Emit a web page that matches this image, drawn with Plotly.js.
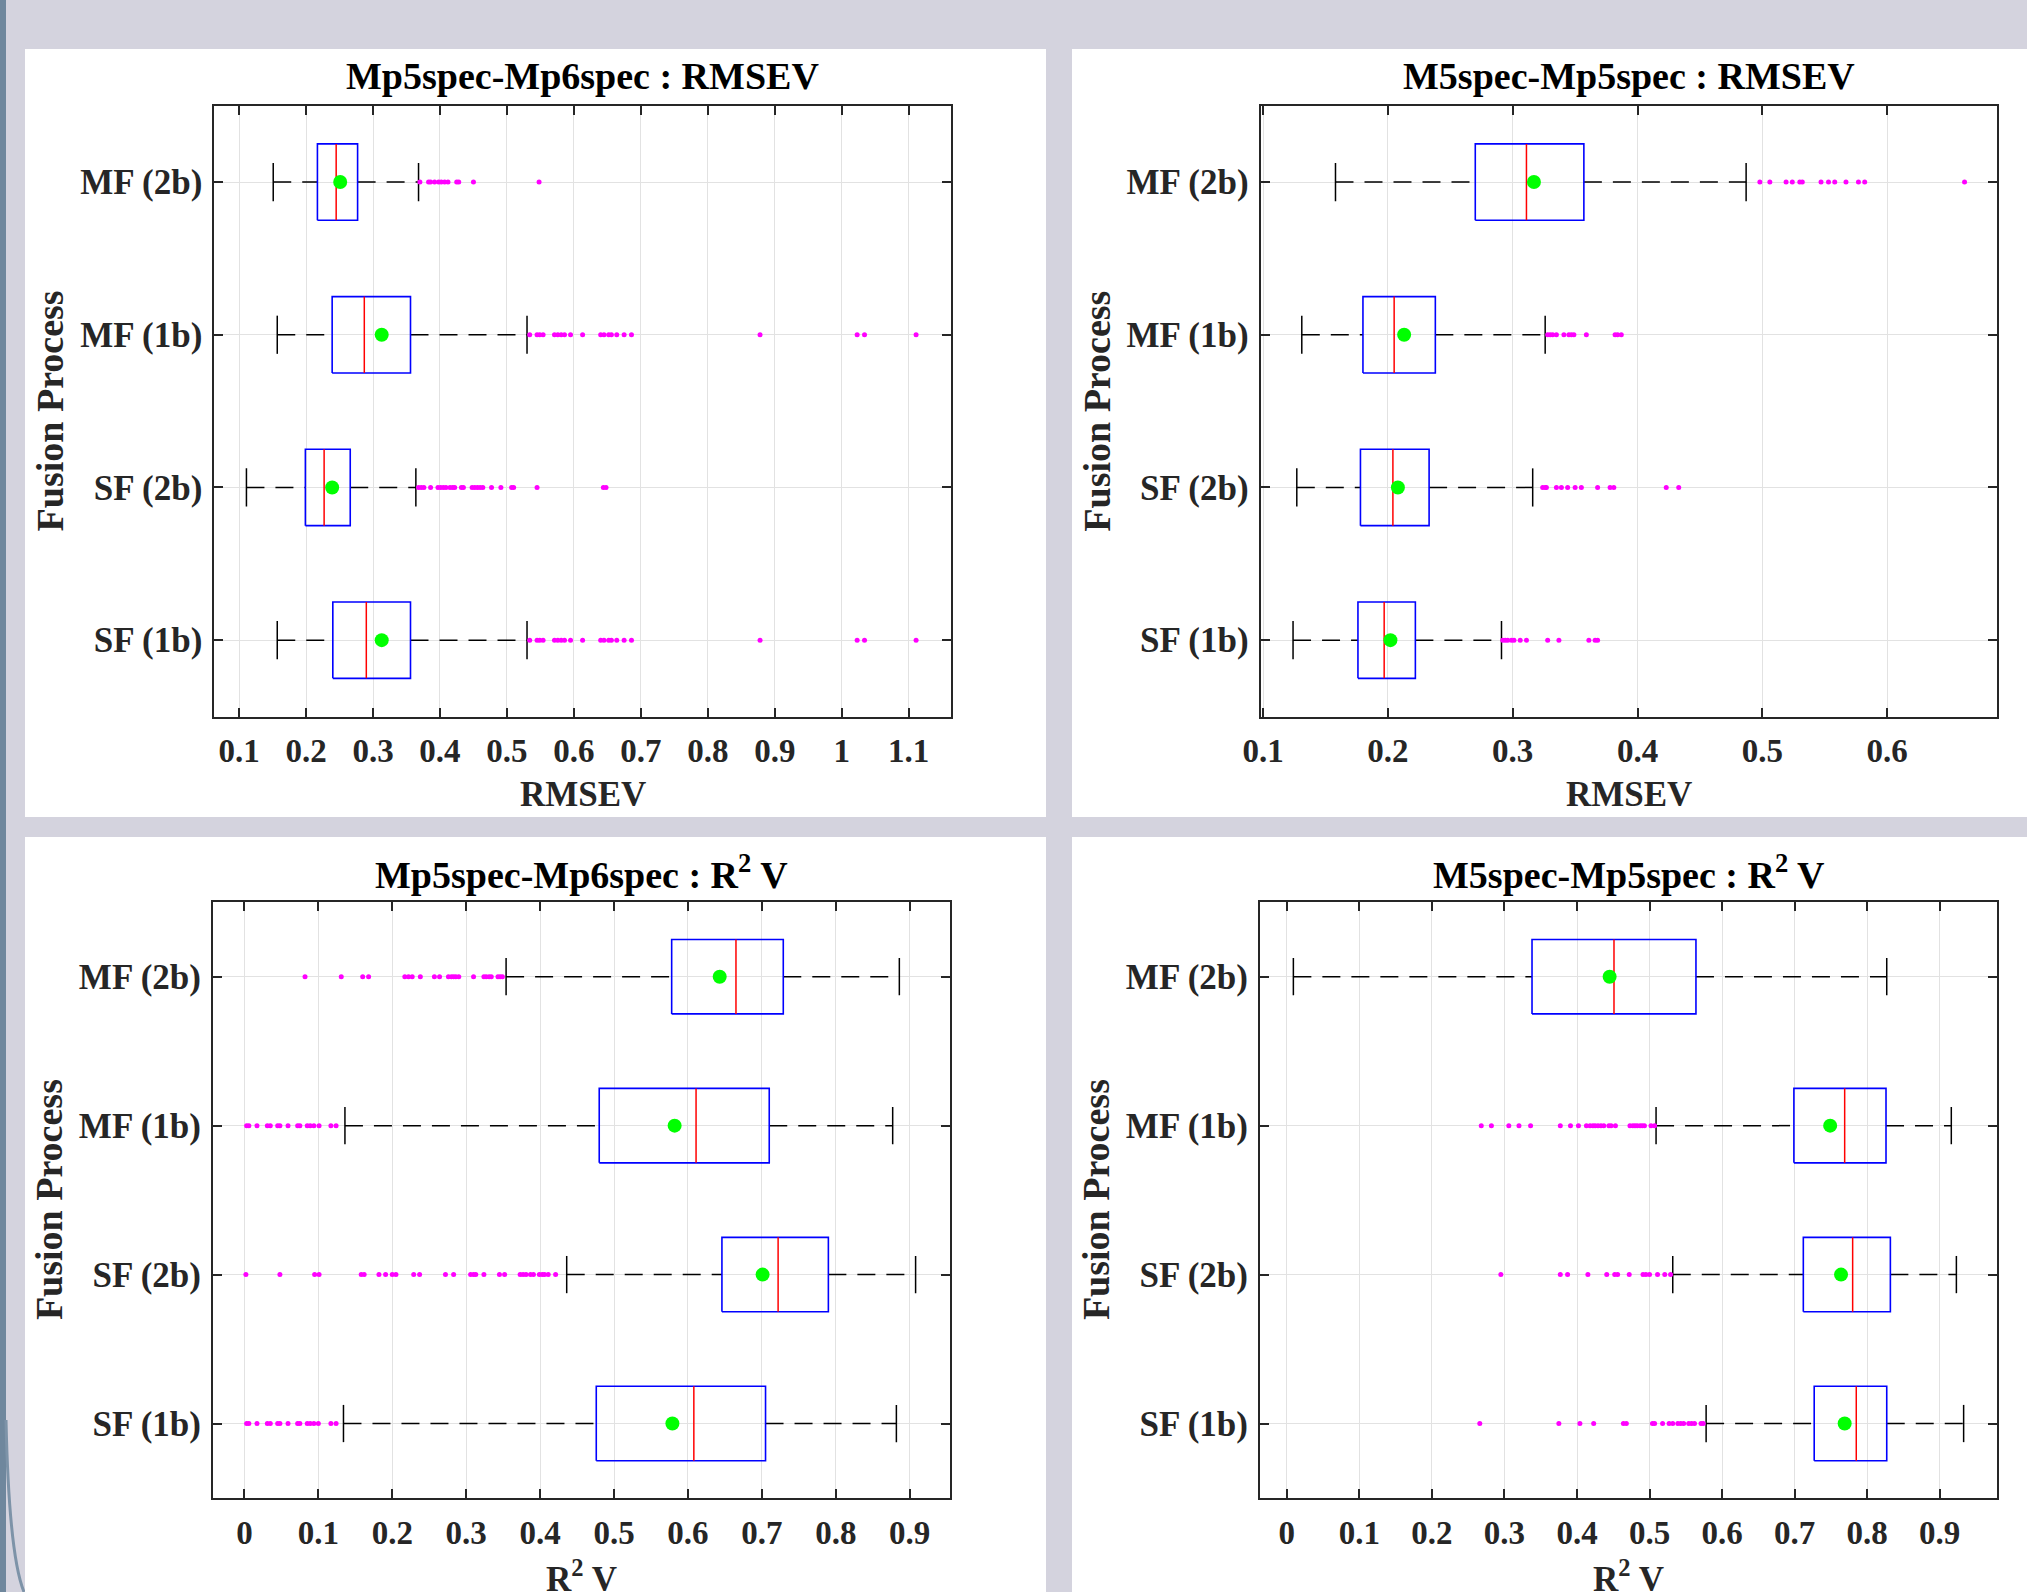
<!DOCTYPE html>
<html>
<head>
<meta charset="utf-8">
<script src="https://cdn.plot.ly/plotly-3.0.1.min.js"></script>
<style>
  html, body { margin: 0; padding: 0; background: #d4d3de; }
  #chart { width: 2027px; height: 1592px; }
</style>
</head>
<body>
<div id="chart"></div>
<script>
// ---------------- DATA ----------------
const categories = ['SF (1b)', 'SF (2b)', 'MF (1b)', 'MF (2b)'];

// Panel A : Mp5spec-Mp6spec : RMSEV
const A_title = 'Mp5spec-Mp6spec : RMSEV';
const A_xlabel = 'RMSEV';
const A_lowWhisker = [0.157, 0.111, 0.157, 0.151];
const A_q1 = [0.240, 0.199, 0.239, 0.217];
const A_median = [0.290, 0.227, 0.287, 0.245];
const A_q3 = [0.356, 0.266, 0.356, 0.277];
const A_highWhisker = [0.530, 0.364, 0.530, 0.368];
const A_mean = [0.313, 0.239, 0.313, 0.251];
const A_out_SF1b = [0.534,0.545,0.549,0.554,0.571,0.576,0.581,0.586,0.595,0.613,0.640,0.645,0.652,0.656,0.664,0.675,0.686,0.878,1.023,1.034,1.111];
const A_out_SF2b = [0.368,0.372,0.376,0.386,0.397,0.401,0.405,0.409,0.415,0.419,0.422,0.432,0.435,0.448,0.452,0.456,0.460,0.464,0.477,0.491,0.507,0.510,0.545,0.644,0.648];
const A_out_MF1b = [0.534,0.545,0.549,0.554,0.571,0.576,0.581,0.586,0.595,0.613,0.640,0.645,0.652,0.656,0.664,0.675,0.686,0.878,1.023,1.034,1.111];
const A_out_MF2b = [0.370,0.383,0.386,0.392,0.398,0.402,0.407,0.412,0.425,0.428,0.450,0.548];
const A_xrange = [0.063, 1.163];

// Panel B : M5spec-Mp5spec : RMSEV
const B_title = 'M5spec-Mp5spec : RMSEV';
const B_xlabel = 'RMSEV';
const B_lowWhisker = [0.124, 0.127, 0.131, 0.158];
const B_q1 = [0.176, 0.178, 0.180, 0.270];
const B_median = [0.197, 0.204, 0.205, 0.311];
const B_q3 = [0.222, 0.233, 0.238, 0.357];
const B_highWhisker = [0.291, 0.316, 0.326, 0.487];
const B_mean = [0.202, 0.208, 0.213, 0.317];
const B_out_SF1b = [0.292,0.294,0.296,0.299,0.301,0.306,0.311,0.328,0.337,0.361,0.366,0.368];
const B_out_SF2b = [0.324,0.326,0.327,0.335,0.339,0.344,0.350,0.355,0.368,0.378,0.381,0.423,0.433];
const B_out_MF1b = [0.328,0.330,0.332,0.335,0.341,0.345,0.347,0.349,0.359,0.382,0.384,0.387];
const B_out_MF2b = [0.498,0.506,0.519,0.524,0.530,0.532,0.547,0.553,0.558,0.567,0.577,0.582,0.662];
const B_xrange = [0.098, 0.688];

// Panel C : Mp5spec-Mp6spec : R2 V
const C_title = 'Mp5spec-Mp6spec : R<sup>2</sup> V';
const C_xlabel = 'R<sup>2</sup> V';
const C_lowWhisker = [0.134, 0.436, 0.136, 0.354];
const C_q1 = [0.476, 0.646, 0.480, 0.578];
const C_median = [0.608, 0.722, 0.611, 0.665];
const C_q3 = [0.705, 0.790, 0.710, 0.729];
const C_highWhisker = [0.882, 0.908, 0.877, 0.886];
const C_mean = [0.579, 0.701, 0.582, 0.643];
const C_out_SF1b = [0.003,0.006,0.017,0.031,0.035,0.045,0.048,0.059,0.072,0.075,0.085,0.089,0.094,0.100,0.117,0.124];
const C_out_SF2b = [0.002,0.048,0.095,0.101,0.158,0.162,0.182,0.191,0.200,0.205,0.229,0.237,0.272,0.283,0.306,0.310,0.313,0.324,0.345,0.352,0.373,0.377,0.381,0.387,0.391,0.399,0.403,0.406,0.411,0.421];
const C_out_MF1b = [0.003,0.006,0.017,0.031,0.035,0.045,0.048,0.059,0.072,0.075,0.085,0.089,0.094,0.101,0.117,0.124];
const C_out_MF2b = [0.082,0.131,0.160,0.168,0.217,0.222,0.227,0.238,0.257,0.264,0.276,0.280,0.283,0.286,0.290,0.310,0.324,0.327,0.331,0.334,0.343,0.346,0.349];
const C_xrange = [-0.0425, 0.954];

// Panel D : M5spec-Mp5spec : R2 V
const D_title = 'M5spec-Mp5spec : R<sup>2</sup> V';
const D_xlabel = 'R<sup>2</sup> V';
const D_lowWhisker = [0.578, 0.532, 0.509, 0.009];
const D_q1 = [0.727, 0.712, 0.699, 0.338];
const D_median = [0.785, 0.780, 0.769, 0.451];
const D_q3 = [0.827, 0.832, 0.826, 0.564];
const D_highWhisker = [0.933, 0.923, 0.916, 0.827];
const D_mean = [0.769, 0.764, 0.749, 0.445];
const D_out_SF1b = [0.266,0.375,0.404,0.423,0.464,0.468,0.504,0.507,0.518,0.527,0.532,0.539,0.543,0.547,0.554,0.558,0.562,0.571,0.574];
const D_out_SF2b = [0.295,0.377,0.387,0.415,0.441,0.452,0.456,0.472,0.491,0.495,0.500,0.511,0.521,0.529];
const D_out_MF1b = [0.268,0.282,0.306,0.320,0.336,0.377,0.391,0.402,0.413,0.418,0.422,0.425,0.429,0.433,0.437,0.444,0.447,0.453,0.473,0.477,0.480,0.483,0.487,0.490,0.493,0.502,0.507];
const D_out_MF2b = [];
const D_xrange = [-0.037, 0.979];

const yLabel = 'Fusion Process';

// ---------------- BUILD ----------------
const W = 2027, H = 1592;
const px = v => v / W;
const py = v => 1 - v / H;

const BOX_HALF = 0.25, CAP_HALF = 0.125;
const FONT = 'Liberation Serif, Times New Roman, serif';
const TXT = '#262626';

function panelTraces(p, xa, ya) {
  const traces = [];
  const wx = [], wy = [], cx = [], cy = [], bx = [], by = [], mx = [], my = [];
  const ox = [], oy = [];
  p.outliers.forEach((arr, i) => { arr.forEach(v => { ox.push(v); oy.push(i + 1); }); });
  categories.forEach((c, i) => {
    const y = i + 1;
    wx.push(p.q3[i], p.hw[i], null, p.lw[i], p.q1[i], null);
    wy.push(y, y, null, y, y, null);
    cx.push(p.lw[i], p.lw[i], null, p.hw[i], p.hw[i], null);
    cy.push(y - CAP_HALF, y + CAP_HALF, null, y - CAP_HALF, y + CAP_HALF, null);
    bx.push(p.q1[i], p.q3[i], p.q3[i], p.q1[i], p.q1[i], null);
    by.push(y - BOX_HALF, y - BOX_HALF, y + BOX_HALF, y + BOX_HALF, y - BOX_HALF, null);
    mx.push(p.med[i], p.med[i], null);
    my.push(y - BOX_HALF, y + BOX_HALF, null);
  });
  const common = { xaxis: xa, yaxis: ya, hoverinfo: 'skip', showlegend: false };
  traces.push(Object.assign({ type: 'scatter', mode: 'lines', x: wx, y: wy,
    line: { color: '#000000', width: 1.5, dash: '18px,11px' } }, common));
  traces.push(Object.assign({ type: 'scatter', mode: 'lines', x: cx, y: cy,
    line: { color: '#000000', width: 1.5 } }, common));
  traces.push(Object.assign({ type: 'scatter', mode: 'lines', x: bx, y: by,
    line: { color: '#0000ff', width: 1.6 } }, common));
  traces.push(Object.assign({ type: 'scatter', mode: 'lines', x: mx, y: my,
    line: { color: '#ff0000', width: 1.5 } }, common));
  traces.push(Object.assign({ type: 'scatter', mode: 'markers', x: ox, y: oy,
    marker: { color: '#ff00ff', size: 5, line: { width: 0 } } }, common));
  traces.push(Object.assign({ type: 'scatter', mode: 'markers', x: p.mean, y: [1, 2, 3, 4],
    marker: { color: '#00ff00', size: 14, line: { width: 0 } } }, common));
  return traces;
}

const panels = [
  { lw: A_lowWhisker, q1: A_q1, med: A_median, q3: A_q3, hw: A_highWhisker, mean: A_mean,
    outliers: [A_out_SF1b, A_out_SF2b, A_out_MF1b, A_out_MF2b], range: A_xrange,
    title: A_title, xlabel: A_xlabel, box: [214.3, 950.9, 105.7, 716.5], panel: [25, 1046, 49, 817] },
  { lw: B_lowWhisker, q1: B_q1, med: B_median, q3: B_q3, hw: B_highWhisker, mean: B_mean,
    outliers: [B_out_SF1b, B_out_SF2b, B_out_MF1b, B_out_MF2b], range: B_xrange,
    title: B_title, xlabel: B_xlabel, box: [1260.6, 1997, 105.7, 716.5], panel: [1072, 2027, 49, 817] },
  { lw: C_lowWhisker, q1: C_q1, med: C_median, q3: C_q3, hw: C_highWhisker, mean: C_mean,
    outliers: [C_out_SF1b, C_out_SF2b, C_out_MF1b, C_out_MF2b], range: C_xrange,
    title: C_title, xlabel: C_xlabel, box: [213, 949.6, 902.2, 1498], panel: [25, 1046, 837, 1592] },
  { lw: D_lowWhisker, q1: D_q1, med: D_median, q3: D_q3, hw: D_highWhisker, mean: D_mean,
    outliers: [D_out_SF1b, D_out_SF2b, D_out_MF1b, D_out_MF2b], range: D_xrange,
    title: D_title, xlabel: D_xlabel, box: [1260, 1997, 902.2, 1498], panel: [1072, 2027, 837, 1592] }
];

const data = [];
const layout = {
  width: W, height: H,
  margin: { l: 0, r: 0, t: 0, b: 0, pad: 0 },
  paper_bgcolor: '#d4d3de',
  plot_bgcolor: '#ffffff',
  showlegend: false,
  shapes: [],
  annotations: []
};

// decorative left border
layout.shapes.push({ type: 'rect', xref: 'paper', yref: 'paper', x0: 0, x1: px(6), y0: 0, y1: 1,
  fillcolor: '#6f879d', line: { width: 0 }, layer: 'below' });
layout.shapes.push({ type: 'path', xref: 'paper', yref: 'paper', layer: 'below',
  path: `M ${px(6)},${py(1420)} Q ${px(9)},${py(1555)} ${px(24)},${py(1592)}`,
  line: { color: '#7d93a8', width: 3 } });

panels.forEach((p, k) => {
  const n = k === 0 ? '' : String(k + 1);
  const xa = 'x' + n, ya = 'y' + n;
  data.push(...panelTraces(p, xa, ya));
  const [x0, x1, y0, y1] = p.box;
  const axCommon = {
    showline: true, linecolor: TXT, linewidth: 2, mirror: 'ticks',
    ticks: 'inside', ticklen: 9, tickwidth: 2, tickcolor: TXT,
    showgrid: true, gridcolor: '#e2e2e2', gridwidth: 1, zeroline: false,
    fixedrange: true
  };
  layout['xaxis' + n] = Object.assign({}, axCommon, {
    domain: [px(x0), px(x1)], range: p.range, anchor: ya,
    tick0: 0, dtick: 0.1, ticklabelstandoff: 4,
    tickfont: { family: FONT, size: 33, color: TXT, weight: 'bold' }
  });
  layout['yaxis' + n] = Object.assign({}, axCommon, {
    domain: [py(y1), py(y0)], range: [0.5, 4.5], anchor: xa,
    tickmode: 'array', tickvals: [1, 2, 3, 4], ticktext: categories, ticklabelstandoff: 3,
    tickfont: { family: FONT, size: 35, color: TXT, weight: 'bold' }
  });
  // white panel background
  const [a, b, c, d] = p.panel;
  layout.shapes.push({ type: 'rect', xref: 'paper', yref: 'paper', layer: 'below',
    x0: px(a), x1: px(b), y0: py(d), y1: py(c), fillcolor: '#ffffff', line: { width: 0 } });
  const cxm = (x0 + x1) / 2;
  // panel title
  layout.annotations.push({ xref: 'paper', yref: 'paper', x: px(cxm), y: py(y0 - 30),
    xanchor: 'center', yanchor: 'middle', showarrow: false, text: p.title,
    font: { family: FONT, size: 38, color: '#000000', weight: 'bold' } });
  // x label
  layout.annotations.push({ xref: 'paper', yref: 'paper', x: px(cxm), y: py(y1 + 78),
    xanchor: 'center', yanchor: 'middle', showarrow: false, text: p.xlabel,
    font: { family: FONT, size: 35, color: TXT, weight: 'bold' } });
  // y label
  layout.annotations.push({ xref: 'paper', yref: 'paper', x: px(x0 - 164), y: py((y0 + y1) / 2),
    xanchor: 'center', yanchor: 'middle', showarrow: false, textangle: -90,
    text: yLabel,
    font: { family: FONT, size: 38, color: TXT, weight: 'bold' } });
});

Plotly.newPlot('chart', data, layout, { displayModeBar: false, staticPlot: true });
</script>
</body>
</html>
